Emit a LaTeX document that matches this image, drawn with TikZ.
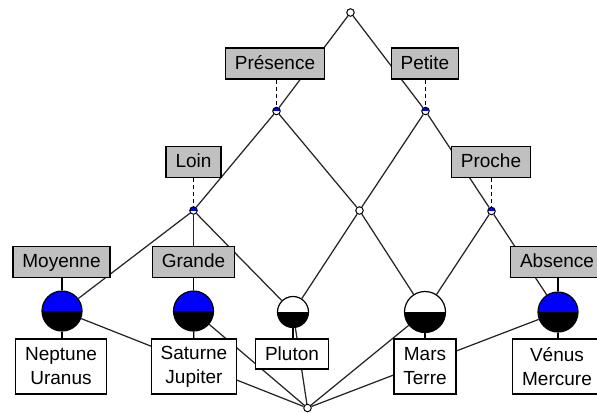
\documentclass[tikz,border=0pt]{standalone}
\usepackage{fontspec}
\setmainfont{Liberation Sans}
\definecolor{attrgray}{RGB}{192,192,192}
\pgfdeclarelayer{edges}
\pgfsetlayers{edges,main}
\begin{document}
\begin{tikzpicture}[x=1pt,y=-1pt,
  font=\fontsize{19}{24}\selectfont,
  latedge/.style={draw=black!85, line width=1.25pt},
  conn/.style={draw=black, line width=1.2pt},
  dashconn/.style={draw=black, line width=1.2pt, dash pattern=on 4pt off 3pt},
  attr/.style={draw=black, line width=1.3pt, fill=attrgray, inner xsep=9.5pt, inner ysep=0pt, minimum height=31pt, text height=14pt, text depth=3pt},
  obj/.style={draw=black, line width=1.3pt, fill=white, inner xsep=9.5pt, inner ysep=0pt, minimum height=30pt, align=center},
  obj2/.style={obj, minimum height=55pt},
  smallc/.style={circle, draw=black, line width=1pt, fill=white, inner sep=0pt, minimum size=7.5pt},
  smallattr/.style={smallc, path picture={\fill[blue] (path picture bounding box.north west) rectangle (path picture bounding box.east);}},
  bigc/.style={circle, draw=black, line width=1.2pt, inner sep=0pt, minimum size=#1,
    path picture={\fill[black] (path picture bounding box.west) rectangle (path picture bounding box.south east);}},
]
\useasboundingbox (0,0) rectangle (597,413);
\clip (0,0) rectangle (597,413);

% lattice concepts
\node[smallc]    (n0)   at (350.5,12.5) {};
\node[smallattr] (nA)   at (276.5,111) {};
\node[smallattr] (nB)   at (425.5,111) {};
\node[smallattr] (nC)   at (193.5,210.5) {};
\node[smallc]    (nD)   at (359.5,210.5) {};
\node[smallattr] (nE)   at (491.5,211) {};
\node[smallc]    (nbot) at (307.5,408) {};

\node[bigc=40pt, fill=blue]  (cNep) at (62,311) {};
\node[bigc=40pt, fill=blue]  (cSat) at (193.5,311) {};
\node[bigc=31pt, fill=white] (cPlu) at (293,312) {};
\node[bigc=41pt, fill=white] (cMar) at (425,312) {};
\node[bigc=40pt, fill=blue]  (cVen) at (558,312) {};

% attribute labels
\node[attr] (lPres)   at (275,63.5) {Présence};
\node[attr] (lPet)    at (425,63.5) {Petite};
\node[attr] (lLoin)   at (193.5,162) {Loin};
\node[attr] (lProche) at (491,162) {Proche};
\node[attr] (lMoy)    at (61.5,262) {Moyenne};
\node[attr] (lGrande) at (193.5,262) {Grande};
\node[attr] (lAbs)    at (557,262) {Absence};

% object labels
\node[obj2] (oNep) at (61,366.5) {Neptune\\Uranus};
\node[obj2] (oSat) at (194,366.5) {Saturne\\Jupiter};
\node[obj]  (oPlu) at (292,354) {Pluton};
\node[obj2] (oMar) at (425,366.5) {Mars\\Terre};
\node[obj2] (oVen) at (557,366.5) {Vénus\\Mercure};

\begin{pgfonlayer}{edges}
  \draw[latedge] (n0) -- (nA);
  \draw[latedge] (n0) -- (nB);
  \draw[latedge] (nA) -- (nC);
  \draw[latedge] (nA) -- (nD);
  \draw[latedge] (nB) -- (nD);
  \draw[latedge] (nB) -- (nE);
  \draw[latedge] (nC) -- (cNep);
  \draw[latedge] (nC) -- (cSat);
  \draw[latedge] (nC) -- (cPlu);
  \draw[latedge] (nD) -- (cPlu);
  \draw[latedge] (nD) -- (cMar);
  \draw[latedge] (nE) -- (cMar);
  \draw[latedge] (nE) -- (cVen);
  \draw[latedge] (cNep) -- (nbot);
  \draw[latedge] (cSat) -- (nbot);
  \draw[latedge] (cPlu) -- (nbot);
  \draw[latedge] (cMar) -- (nbot);
  \draw[latedge] (cVen) -- (nbot);
  % label connectors
  \draw[dashconn] (lPres.south -| nA) -- (nA);
  \draw[dashconn] (lPet.south -| nB) -- (nB);
  \draw[dashconn] (lLoin.south -| nC) -- (nC);
  \draw[dashconn] (lProche.south -| nE) -- (nE);
  \draw[conn] (lMoy.south -| cNep) -- (cNep);
  \draw[conn] (cNep) -- (oNep.north -| cNep);
  \draw[conn] (lGrande) -- (cSat);
  \draw[conn] (cSat) -- (oSat);
  \draw[conn] (cPlu) -- (oPlu.north -| cPlu);
  \draw[conn] (cMar) -- (oMar);
  \draw[conn] (lAbs.south -| cVen) -- (cVen);
  \draw[conn] (cVen) -- (oVen.north -| cVen);
\end{pgfonlayer}
\end{tikzpicture}
\end{document}
